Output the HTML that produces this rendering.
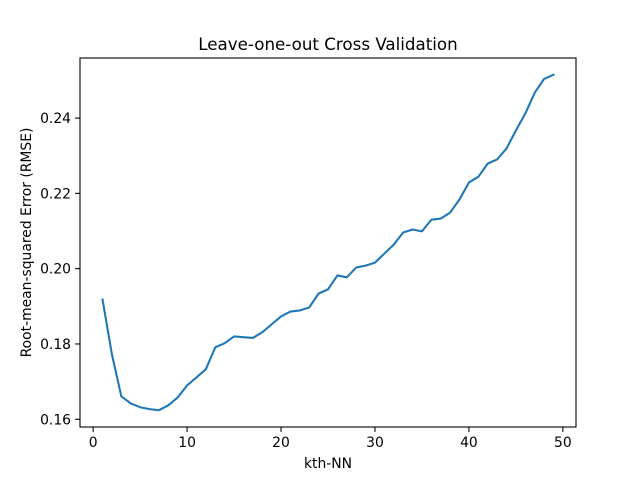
<!DOCTYPE html>
<html><head><meta charset="utf-8"><style>
body{margin:0;background:#fff}
svg text{font-family:"DejaVu Sans","Liberation Sans",sans-serif;fill:#000}
</style></head><body>
<svg id="chart" width="640" height="480" xmlns="http://www.w3.org/2000/svg">
<rect width="640" height="480" fill="#fff"/>
<text x="328" y="50" font-size="16.7" text-anchor="middle">Leave-one-out Cross Validation</text>
<g id="ticks"></g>
<path id="line" fill="none" stroke="#1f77b4" stroke-width="2.08" stroke-linejoin="round" stroke-linecap="square"/>
<rect x="80" y="58" width="496" height="369" fill="none" stroke="#000" stroke-width="1.1"/>
<text x="328" y="468" font-size="13.9" text-anchor="middle">kth-NN</text>
<text transform="translate(31,242.5) rotate(-90)" font-size="13.9" text-anchor="middle">Root-mean-squared Error (RMSE)</text>
</svg>
<script>
const kValues=[1,2,3,4,5,6,7,8,9,10,11,12,13,14,15,16,17,18,19,20,21,22,23,24,25,26,27,28,29,30,31,32,33,34,35,36,37,38,39,40,41,42,43,44,45,46,47,48,49];
const rmseValues=[0.1918,0.1772,0.1661,0.1642,0.1632,0.1627,0.1624,0.1637,0.1658,0.1690,0.1711,0.1733,0.1791,0.1802,0.1820,0.1818,0.1816,0.1831,0.1852,0.1873,0.1886,0.1889,0.1897,0.1934,0.1945,0.1982,0.1977,0.2003,0.2008,0.2016,0.2040,0.2064,0.2096,0.2104,0.2099,0.2130,0.2133,0.2149,0.2184,0.2229,0.2244,0.2279,0.2290,0.2319,0.2367,0.2412,0.2467,0.2504,0.2515];
const xTicks=[0,10,20,30,40,50];
const yTicks=[0.16,0.18,0.20,0.22,0.24];
const yTickLabels=["0.16","0.18","0.20","0.22","0.24"];

const L=80,R=576,T=58,B=427;
const xmin0=Math.min(...kValues),xmax0=Math.max(...kValues);
const xm=(xmax0-xmin0)*0.05,xmin=xmin0-xm,xmax=xmax0+xm;
const ymin0=Math.min(...rmseValues),ymax0=Math.max(...rmseValues);
const ym=(ymax0-ymin0)*0.05,ymin=ymin0-ym,ymax=ymax0+ym;
const xs=v=>L+(v-xmin)/(xmax-xmin)*(R-L);
const ys=v=>B-(v-ymin)/(ymax-ymin)*(B-T);
const NS="http://www.w3.org/2000/svg";
const g=document.getElementById('ticks');
function mk(tag,attrs){const e=document.createElementNS(NS,tag);for(const k in attrs)e.setAttribute(k,attrs[k]);g.appendChild(e);return e;}
xTicks.forEach(t=>{
  const x=xs(t);
  const l=mk('line',{x1:x,x2:x,y1:B,y2:B+4.9,stroke:'#000','stroke-width':1.1});
  
  
  const tx=mk('text',{x:x,y:B+20,'font-size':13.9,'text-anchor':'middle'});
  tx.textContent=String(t);
  
  
});
yTicks.forEach((t,i)=>{
  const y=ys(t);
  const l=mk('line',{x1:L-4.9,x2:L,y1:y,y2:y,stroke:'#000','stroke-width':1.1});
  
  
  const tx=mk('text',{x:L-9,y:y+5,'font-size':13.9,'text-anchor':'end'});
  tx.textContent=yTickLabels[i];
  
  
});
document.getElementById('line').setAttribute('d',kValues.map((k,i)=>(i?'L':'M')+xs(k).toFixed(2)+' '+ys(rmseValues[i]).toFixed(2)).join(' '));
</script>
</body></html>
